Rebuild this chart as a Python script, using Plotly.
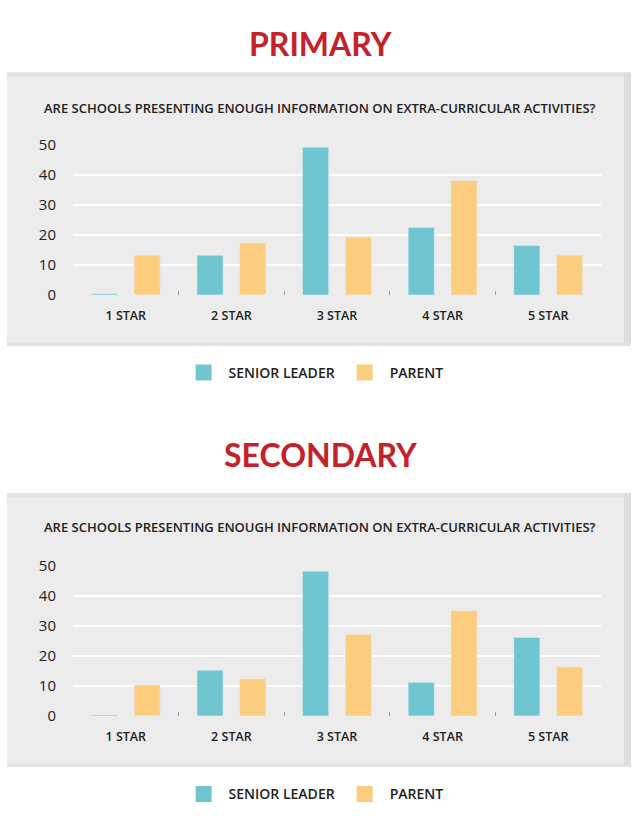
import plotly.graph_objects as go

categories = ["1 STAR", "2 STAR", "3 STAR", "4 STAR", "5 STAR"]
primary_senior = [0.4, 13.2, 49.1, 22.4, 16.4]
primary_parent = [13.2, 17.3, 19.2, 38.0, 13.2]
secondary_senior = [0.3, 15.2, 48.3, 11.2, 26.2]
secondary_parent = [10.3, 12.4, 27.2, 35.1, 16.4]
series_names = ["SENIOR LEADER", "PARENT"]
panel_titles = ["PRIMARY", "SECONDARY"]
question = "ARE SCHOOLS PRESENTING ENOUGH INFORMATION ON EXTRA-CURRICULAR ACTIVITIES?"
y_ticks = [0, 10, 20, 30, 40, 50]

BLUE = "#6fc6d1"
ORANGE = "#fdcd7f"
RED = "#c5212a"
PANEL = "#ececec"
TEXT = "#222222"
FONT = "Open Sans"

W, H = 640, 820

def py(p):
    return 1 - p / H

def px(p):
    return p / W

fig = go.Figure()

fig.add_trace(go.Bar(x=categories, y=primary_senior, name=series_names[0], marker_color=BLUE,
                     xaxis="x", yaxis="y", showlegend=False))
fig.add_trace(go.Bar(x=categories, y=primary_parent, name=series_names[1], marker_color=ORANGE,
                     xaxis="x", yaxis="y", showlegend=False))
fig.add_trace(go.Bar(x=categories, y=secondary_senior, name=series_names[0], marker_color=BLUE,
                     xaxis="x2", yaxis="y2", showlegend=False))
fig.add_trace(go.Bar(x=categories, y=secondary_parent, name=series_names[1], marker_color=ORANGE,
                     xaxis="x2", yaxis="y2", showlegend=False))

# legend entries (square swatches)
for lg, xa, ya in [("legend", "x", "y"), ("legend2", "x2", "y2")]:
    for name, col in zip(series_names, [BLUE, ORANGE]):
        fig.add_trace(go.Scatter(x=[None], y=[None], mode="markers", name=name,
                                 marker=dict(symbol="square", size=20, color=col),
                                 xaxis=xa, yaxis=ya, legend=lg, showlegend=True))

xdom = [px(73), px(601)]
xaxis_common = dict(domain=xdom, type="category", showgrid=False, zeroline=False, showline=False,
                    ticks="inside", tickson="boundaries", ticklen=4, tickcolor="#9a9a9a", tickwidth=1,
                    tickfont=dict(family=FONT, size=12.5, color=TEXT, weight=600), ticklabelstandoff=12,
                    fixedrange=True)
yaxis_common = dict(range=[0, 50], tickvals=y_ticks, showgrid=True, gridcolor="white", gridwidth=2,
                    zeroline=False, showline=False, tickfont=dict(family=FONT, size=15, color=TEXT),
                    ticklabelstandoff=16, fixedrange=True)

legend_common = dict(orientation="h", x=0.49, xanchor="center", yanchor="middle",
                     font=dict(family=FONT, size=14, color=TEXT, weight=600),
                     itemwidth=40, bgcolor="rgba(0,0,0,0)", itemsizing="trace")

fig.update_layout(
    width=W, height=H,
    margin=dict(l=0, r=0, t=0, b=0),
    paper_bgcolor="white", plot_bgcolor="rgba(0,0,0,0)",
    barmode="group", bargap=0.19, bargroupgap=0.39,
    xaxis=dict(xaxis_common, anchor="y"),
    yaxis=dict(yaxis_common, domain=[py(291), py(137)], anchor="x"),
    xaxis2=dict(xaxis_common, anchor="y2"),
    yaxis2=dict(yaxis_common, domain=[py(722.5), py(569)], anchor="x2"),
    legend=dict(legend_common, y=py(371)),
    legend2=dict(legend_common, y=py(803)),
    showlegend=True,
)

shapes = []
for top, bottom in [(63, 343), (494, 775)]:
    shapes.append(dict(type="rect", xref="paper", yref="paper", layer="below",
                       x0=px(7), x1=px(631), y0=py(bottom), y1=py(top),
                       fillcolor=PANEL, line=dict(width=0)))
    # soft shading at top and right edge
    shapes.append(dict(type="rect", xref="paper", yref="paper", layer="below",
                       x0=px(7), x1=px(631), y0=py(top + 4), y1=py(top),
                       fillcolor="#e2e2e2", line=dict(width=0)))
    shapes.append(dict(type="rect", xref="paper", yref="paper", layer="below",
                       x0=px(624), x1=px(631), y0=py(bottom), y1=py(top),
                       fillcolor="#dddddd", line=dict(width=0)))
    shapes.append(dict(type="rect", xref="paper", yref="paper", layer="below",
                       x0=px(7), x1=px(631), y0=py(bottom), y1=py(bottom - 3),
                       fillcolor="#e3e3e3", line=dict(width=0)))
fig.update_layout(shapes=shapes)

annotations = []
for title, ty, qy in [(panel_titles[0], 33, 99), (panel_titles[1], 455, 529)]:
    annotations.append(dict(text="<b>" + title + "</b>", x=0.5, y=py(ty), xref="paper", yref="paper",
                            showarrow=False, xanchor="center", yanchor="middle",
                            font=dict(family="Lato", size=32, color=RED)))
    annotations.append(dict(text=question, x=0.5, y=py(qy), xref="paper", yref="paper",
                            showarrow=False, xanchor="center", yanchor="middle",
                            font=dict(family=FONT, size=13, color=TEXT, weight=600)))
fig.update_layout(annotations=annotations)

post = ("document.body.style.margin='0';"
        "document.body.style.overflow='hidden';"
        "var d=document.getElementById('{plot_id}');"
        "d.style.position='fixed';d.style.top='0px';d.style.left='0px';")

fig.write_html("out.html", config={"displayModeBar": False}, post_script=post)
